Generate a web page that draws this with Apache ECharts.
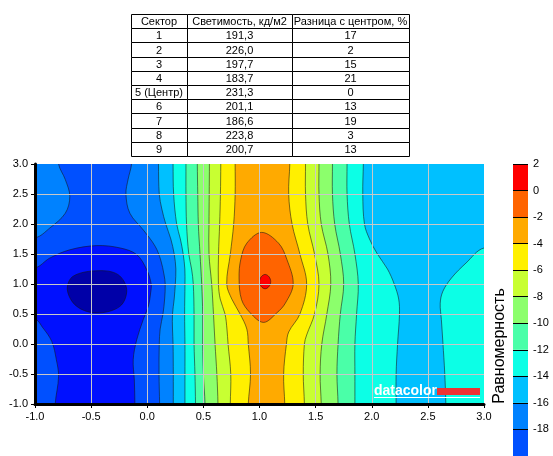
<!DOCTYPE html>
<html><head><meta charset="utf-8">
<script src="https://cdn.jsdelivr.net/npm/echarts@6/dist/echarts.min.js"></script>
<style>html,body{margin:0;padding:0;background:#fff}#c{width:553px;height:456px}</style>
</head><body><div id="c"></div>
<script>
// ---------- table data ----------
const tableHeader = ['Сектор', 'Светимость, кд/м2', 'Разница с центром, %'];
const sectors = ['1', '2', '3', '4', '5 (Центр)', '6', '7', '8', '9'];
const luminance = ['191,3', '226,0', '197,7', '183,7', '231,3', '201,1', '186,6', '223,8', '200,7'];
const diffFromCenter = ['17', '2', '15', '21', '0', '13', '19', '3', '13'];

// ---------- axes ----------
const axisTicks = [-1.0, -0.5, 0.0, 0.5, 1.0, 1.5, 2.0, 2.5, 3.0];
const colorbarTicks = [2, 0, -2, -4, -6, -8, -10, -12, -14, -16, -18];
const colorbarBands = [[-20, -18], [-18, -16], [-16, -14], [-14, -12], [-12, -10], [-10, -8], [-8, -6], [-6, -4], [-4, -2], [-2, 0], [0, 2]];
const bandColors = ['#0050FF', '#0082FF', '#00C0FF', '#0CFFE6', '#4AFFA8', '#8CFF6C', '#C8FF32', '#FFF000', '#FFAA00', '#FF6400', '#FF0000'];
const deepColors = {'-22': '#0010FF', '-24': '#0000A8'};

// ---------- contour lines ([x, y]) ----------
const contourM22 = [[-0.436,1.222],[-0.26,1.156],[-0.183,0.906],[-0.243,0.628],[-0.45,0.517],[-0.63,0.63],[-0.712,0.906],[-0.66,1.13]];
const contourM20East = [[-1,1.27],[-0.87,1.43],[-0.69,1.57],[-0.45,1.64],[-0.24,1.6],[-0.094,1.49],[-0.005,1.24],[0.035,1.0],[0.03,0.85],[0.01,0.63],[-0.035,0.41],[-0.094,0.07],[-0.125,-0.26],[-0.115,-0.6],[-0.11,-1]];
const contourM20West = [[-0.82,-1],[-0.79,-0.54],[-0.81,-0.26],[-0.85,0.04],[-0.93,0.27],[-1,0.41]];
const contourM18West = [[-1,1.77],[-0.87,1.93],[-0.73,2.18],[-0.69,2.46],[-0.73,2.74],[-0.79,3.0]];
const contourM18 = [[-0.14,3],[-0.17,2.75],[-0.19,2.5],[-0.155,2.18],[-0.035,1.9],[0.07,1.63],[0.12,1.4],[0.15,1.15],[0.16,1.0],[0.155,0.75],[0.14,0.5],[0.115,0.25],[0.107,0],[0.105,-0.5],[0.11,-1]];
const contourM16 = [[0.10,3],[0.107,2.5],[0.13,2.25],[0.165,2.0],[0.21,1.75],[0.24,1.5],[0.255,1.25],[0.25,1.0],[0.24,0.75],[0.225,0.5],[0.225,0.25],[0.23,0],[0.232,-0.5],[0.232,-1]];
const contourM14Left = [[0.23,3],[0.235,2.5],[0.262,2.0],[0.295,1.75],[0.32,1.5],[0.335,1.25],[0.336,1.0],[0.333,0.5],[0.336,0],[0.336,-0.5],[0.336,-1]];
const contourM14Right = [[1.925,3],[1.92,2.5],[1.935,2.0],[1.98,1.75],[2.05,1.5],[2.14,1.25],[2.2,1.0],[2.24,0.75],[2.247,0.5],[2.23,0],[2.217,-0.5],[2.217,-1]];
const contourM14East = [[3.0,1.6],[2.84,1.35],[2.71,1.1],[2.634,0.88],[2.61,0.68],[2.62,0.41],[2.634,0.02],[2.65,-0.48],[2.66,-1]];
const contourM12Left = [[0.345,3],[0.345,2.5],[0.35,2.0],[0.37,1.5],[0.395,1.25],[0.41,1.0],[0.417,0.5],[0.417,0],[0.425,-0.5],[0.43,-1]];
const contourM12Right = [[1.78,3],[1.78,2.5],[1.80,2.0],[1.85,1.5],[1.88,1.0],[1.865,0.5],[1.85,0],[1.85,-0.5],[1.85,-1]];
const contourM10Left = [[0.446,3],[0.45,2.5],[0.455,2.0],[0.47,1.5],[0.485,1.0],[0.494,0.5],[0.494,0],[0.50,-0.5],[0.515,-1]];
const contourM10Right = [[1.65,3],[1.65,2.5],[1.67,2.0],[1.72,1.5],[1.75,1.0],[1.72,0.5],[1.70,0],[1.69,-0.5],[1.70,-1]];
const contourM8Left = [[0.554,3],[0.552,2.5],[0.55,2.0],[0.55,1.5],[0.574,1.0],[0.59,0.5],[0.604,0],[0.62,-0.5],[0.63,-1]];
const contourM8Right = [[1.53,3],[1.53,2.5],[1.55,2.0],[1.61,1.5],[1.635,1.0],[1.60,0.5],[1.555,0],[1.54,-0.5],[1.55,-1]];
const contourM6Left = [[0.655,3],[0.652,2.5],[0.645,2.0],[0.635,1.5],[0.634,1.0],[0.65,0.75],[0.693,0.5],[0.71,0.25],[0.72,0],[0.744,-0.5],[0.74,-1]];
const contourM6Right = [[1.41,3],[1.41,2.5],[1.43,2.0],[1.49,1.5],[1.53,1.0],[1.49,0.5],[1.42,0.15],[1.40,0],[1.39,-0.5],[1.40,-1]];
const contourM4Left = [[0.783,3],[0.783,2.5],[0.77,2.0],[0.74,1.5],[0.708,1.0],[0.753,0.75],[0.827,0.5],[0.887,0.25],[0.90,0],[0.92,-0.5],[0.90,-1]];
const contourM4Right = [[1.27,3],[1.26,2.5],[1.29,2.0],[1.36,1.5],[1.42,1.0],[1.36,0.5],[1.26,0.2],[1.24,0],[1.215,-0.5],[1.225,-1]];
const contourM2 = [[1.02,1.86],[1.17,1.68],[1.244,1.41],[1.30,1.0],[1.23,0.68],[1.155,0.52],[1.036,0.36],[0.917,0.52],[0.84,0.74],[0.818,1.1],[0.833,1.41],[0.887,1.68]];
const contour0 = [[1.05,1.16],[1.085,1.12],[1.10,1.04],[1.085,0.96],[1.05,0.92],[1.015,0.96],[1.0,1.04],[1.015,1.12]];

// ---------- build filled regions (painter's order) ----------
const X0 = -1, X1 = 3, Y0 = -1, Y1 = 3, E = 0.35;
function outward(p) {
  if (p[1] >= Y1) return [p[0], Y1 + E];
  if (p[1] <= Y0) return [p[0], Y0 - E];
  if (p[0] <= X0) return [X0 - E, p[1]];
  return [X1 + E, p[1]];
}
function ext(c) { return [outward(c[0])].concat(c, [outward(c[c.length - 1])]); }
function strip(l, r) { return ext(l).concat(ext(r).reverse()); }
function toRight(l) { return ext(l).concat([[X1 + E, Y0 - E], [X1 + E, Y1 + E]]); }
const col = v => bandColors[colorbarBands.findIndex(b => b[0] === v)];

const regions = [
  {pts: [[X0 - E, Y0 - E], [X1 + E, Y0 - E], [X1 + E, Y1 + E], [X0 - E, Y1 + E]], color: col(-20), line: false},
  {pts: ext(contourM18West).concat([[X0 - E, Y1 + E]]), color: col(-18), line: true},
  {pts: ext(contourM20East).concat(ext(contourM20West)), color: deepColors['-22'], line: true},
  {pts: contourM22, color: deepColors['-24'], line: true},
  {pts: toRight(contourM18), color: col(-18), line: true},
  {pts: toRight(contourM16), color: col(-16), line: true},
  {pts: strip(contourM14Left, contourM14Right), color: col(-14), line: true},
  {pts: ext(contourM14East).concat([[X1 + E, Y0 - E]]), color: col(-14), line: true},
  {pts: strip(contourM12Left, contourM12Right), color: col(-12), line: true},
  {pts: strip(contourM10Left, contourM10Right), color: col(-10), line: true},
  {pts: strip(contourM8Left, contourM8Right), color: col(-8), line: true},
  {pts: strip(contourM6Left, contourM6Right), color: col(-6), line: true},
  {pts: strip(contourM4Left, contourM4Right), color: col(-4), line: true},
  {pts: contourM2, color: col(-2), line: true},
  {pts: contour0, color: col(0), line: true}
];

// ---------- table graphics ----------
const colEdges = [131, 187, 292, 409];
const tableTop = 14, rowH = 14.2;
const tableRows = [tableHeader].concat(sectors.map((s, i) => [s, luminance[i], diffFromCenter[i]]));
const rowEdge = r => Math.round(tableTop + r * rowH);
const graphics = [];
tableRows.forEach((row, r) => {
  const y = rowEdge(r), h = rowEdge(r + 1) - rowEdge(r);
  row.forEach((txt, c) => {
    const x = colEdges[c], w = colEdges[c + 1] - colEdges[c];
    graphics.push({type: 'rect', z: 100, shape: {x: x + 0.5, y: y + 0.5, width: w, height: h},
      style: {fill: '#fff', stroke: '#000', lineWidth: 1}});
    graphics.push({type: 'text', z: 101, x: x + w / 2, y: y + h / 2 + 1,
      style: {text: txt, fill: '#000', font: '11px "Liberation Sans", Arial, sans-serif', textAlign: 'center', textVerticalAlign: 'middle'}});
  });
});
// colorbar title
graphics.push({type: 'text', z: 100, x: 500, y: 346, rotation: Math.PI / 2,
  style: {text: 'Равномерность', fill: '#000', font: '16px "Liberation Sans", Arial, sans-serif', textAlign: 'center', textVerticalAlign: 'middle'}});
// datacolor logo
graphics.push({type: 'text', z: 100, x: 374, y: 391.5,
  style: {text: 'datacolor', fill: '#fff', font: 'bold 14px "Liberation Sans", Arial, sans-serif', textAlign: 'left', textVerticalAlign: 'middle'}});
graphics.push({type: 'rect', z: 100, shape: {x: 437, y: 388, width: 43, height: 7}, style: {fill: '#EE3333'}});
graphics.push({type: 'line', z: 100, shape: {x1: 374, y1: 397.5, x2: 480, y2: 397.5}, style: {stroke: '#fff', lineWidth: 1}});

const axisCommon = {
  type: 'value', min: axisTicks[0], max: axisTicks[axisTicks.length - 1], interval: axisTicks[1] - axisTicks[0], z: 5,
  axisLine: {show: true, onZero: false, lineStyle: {color: '#000', width: 3}},
  axisTick: {show: true, length: 4, lineStyle: {color: '#000', width: 1}},
  axisLabel: {color: '#000', fontSize: 11, fontFamily: 'Liberation Sans', formatter: v => v.toFixed(1)},
  splitLine: {show: true, showMaxLine: false, lineStyle: {color: '#C8C8C8', width: 1}}
};

const option = {
  animation: false,
  backgroundColor: '#fff',
  textStyle: {fontFamily: 'Liberation Sans'},
  grid: [
    {left: 35, top: 164, width: 449, height: 240},
    {left: 513, top: 164, width: 15, height: 22 * 13.85}
  ],
  xAxis: [
    Object.assign({}, axisCommon, {gridIndex: 0, axisLabel: Object.assign({}, axisCommon.axisLabel, {margin: 7})}),
    {type: 'value', gridIndex: 1, min: 0, max: 1, show: false}
  ],
  yAxis: [
    Object.assign({}, axisCommon, {gridIndex: 0, axisLabel: Object.assign({}, axisCommon.axisLabel, {margin: 7})}),
    {type: 'value', gridIndex: 1, min: colorbarBands[0][0], max: colorbarTicks[0], interval: 2, position: 'right', z: 5,
      axisLine: {show: false}, axisTick: {show: false},
      axisLabel: {color: '#000', fontSize: 11, fontFamily: 'Liberation Sans', margin: 5,
        formatter: v => colorbarTicks.indexOf(v) >= 0 ? String(v) : ''},
      splitLine: {show: true, lineStyle: {color: '#000', width: 1}}}
  ],
  graphic: {elements: graphics},
  series: [
    {
      type: 'custom', xAxisIndex: 0, yAxisIndex: 0, clip: true, z: 2,
      data: regions.map((r, i) => [0, 0, i]),
      renderItem: function (params, api) {
        const r = regions[params.dataIndex];
        const pts = r.pts.map(p => api.coord(p));
        return {type: 'polygon', z2: params.dataIndex,
          shape: {points: pts, smooth: r.pts.length > 4 ? 0.35 : 0},
          style: {fill: r.color, stroke: r.line ? 'rgba(20,20,20,0.55)' : null, lineWidth: 1}};
      }
    },
    {
      type: 'custom', xAxisIndex: 1, yAxisIndex: 1, clip: true, z: 2,
      data: colorbarBands.map(b => [b[0], b[1]]),
      renderItem: function (params, api) {
        const lo = api.value(0), hi = api.value(1);
        const p1 = api.coord([0, hi]), p2 = api.coord([1, lo]);
        return {type: 'rect', shape: {x: p1[0], y: p1[1], width: p2[0] - p1[0], height: p2[1] - p1[1]},
          style: {fill: bandColors[params.dataIndex]}};
      }
    }
  ]
};
const chart = echarts.init(document.getElementById('c'));
chart.setOption(option);
</script>
</body></html>
